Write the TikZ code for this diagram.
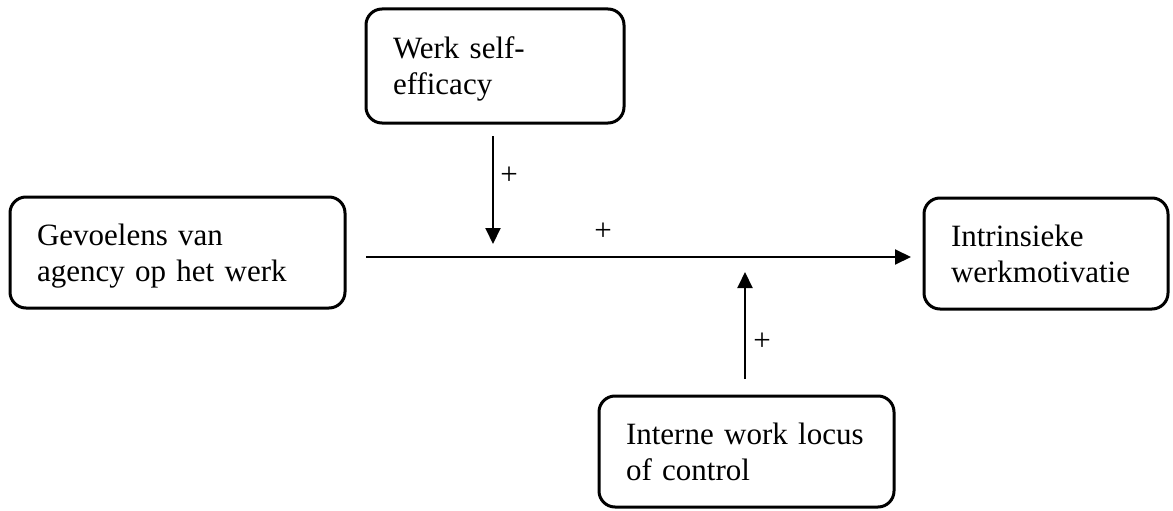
\documentclass[tikz,border=0pt]{standalone}
\usepackage{fontspec}
\setmainfont{Liberation Serif}
\usetikzlibrary{arrows.meta}
\begin{document}
\begin{tikzpicture}[x=1pt,y=-1pt,
  box/.style={draw=black, line width=3pt, rounded corners=16pt, inner xsep=27pt, inner ysep=0pt,
    align=left, font=\fontsize{31}{36}\selectfont, text depth=36pt},
  conn/.style={line width=2pt, -{Triangle[length=16pt,width=15pt]}},
  sign/.style={font=\fontsize{31}{36}\selectfont, inner sep=0pt}]
\useasboundingbox (0,0) rectangle (1173,511);
\node[box, text width=281pt, minimum height=111pt] (agency) at (177.5,252.5) {Gevoelens van\\agency op het werk};
\node[box, text width=204pt, minimum height=114pt] (efficacy) at (495,66) {Werk self-\\efficacy};
\node[box, text width=190pt, minimum height=111pt] (motivation) at (1046,253.5) {Intrinsieke\\werkmotivatie};
\node[box, text width=241pt, minimum height=111pt] (locus) at (746.5,451.5) {Interne work locus\\of control};
\coordinate (hstart) at (366,257);
\coordinate (hend) at (911,257);
\coordinate (dstart) at (493,136);
\coordinate (dend) at (493,244);
\coordinate (ustart) at (745,379);
\coordinate (uend) at (745,272);
\draw[conn] (hstart) -- (hend);
\draw[conn] (dstart) -- (dend);
\draw[conn] (ustart) -- (uend);
\node[sign] (p1) at (509,176) {+};
\node[sign] (p2) at (603,232) {+};
\node[sign] (p3) at (762,342) {+};
\end{tikzpicture}
\end{document}
